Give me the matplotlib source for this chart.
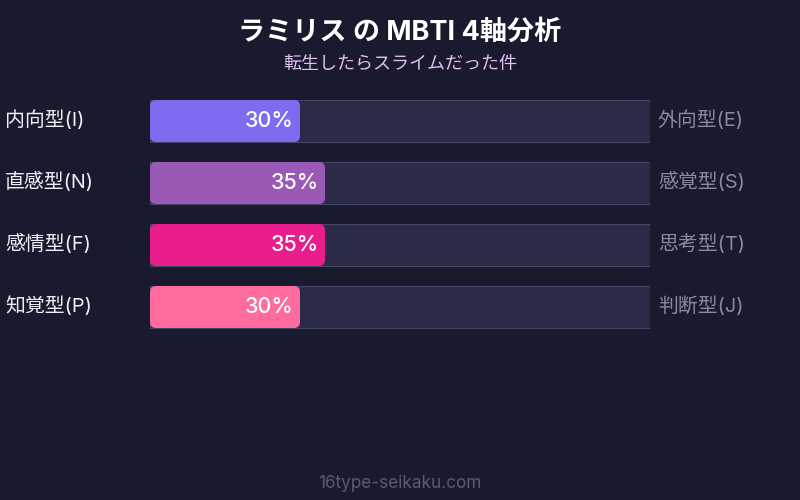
import matplotlib
matplotlib.use("Agg")
import matplotlib.pyplot as plt
from matplotlib.patches import FancyBboxPatch

plt.rcParams['font.family'] = ['Inter', 'Noto Sans CJK JP', 'DejaVu Sans']

# data
left_labels = ['内向型(I)', '直感型(N)', '感情型(F)', '知覚型(P)']
right_labels = ['外向型(E)', '感覚型(S)', '思考型(T)', '判断型(J)']
values = [30, 35, 35, 30]
colors = ['#7b6cf0', '#9b59b6', '#e91e8c', '#ff6b9d']

bg = '#1a1a2e'
fig = plt.figure(figsize=(8, 5), dpi=100, facecolor=bg)

# axes covers track area: x 150..650 px, y 90..338 px
ax = fig.add_axes([150 / 800, 1 - 338 / 500, 500 / 800, 248 / 500])
ax.set_facecolor('none')
ax.set_xlim(0, 100)
ax.set_ylim(len(values) - 0.5, -0.5)
ax.axis('off')

bar_h = 42 / 62
ypos = list(range(len(values)))

ax.barh(ypos, [100] * len(values), height=bar_h, color='#2b2b47',
        edgecolor='#45456a', linewidth=0.8)

bars = ax.barh(ypos, values, height=bar_h, color=colors)
for b, c in zip(bars, colors):
    b.set_visible(False)
    rp = FancyBboxPatch((b.get_x(), b.get_y()), b.get_width(), b.get_height(),
                        boxstyle='round,pad=0,rounding_size=1.2',
                        mutation_aspect=5 / 62, facecolor=c, edgecolor='none')
    ax.add_patch(rp)

for y, v in zip(ypos, values):
    ax.text(v - 1.2, y + 0.0, f'{v}%', ha='right', va='center', color='white',
            fontsize=15.5, fontweight='medium')

for y, lab in zip(ypos, left_labels):
    fig.text(5 / 800, 1 - (120 + 62 * y) / 500, lab, ha='left', va='center',
             color='#f0f0f8', fontsize=14.3)
for y, lab in zip(ypos, right_labels):
    fig.text(658 / 800, 1 - (120 + 62 * y) / 500, lab, ha='left', va='center',
             color='#8a8aa0', fontsize=14.3)

fig.text(0.5, 1 - 33 / 500, 'ラミリス の MBTI 4軸分析', ha='center', va='center',
         color='white', fontsize=19.5, fontweight='bold')
fig.text(0.5, 1 - 64 / 500, '転生したらスライムだった件', ha='center', va='center',
         color='#e0c0f0', fontsize=13)
fig.text(0.5, 1 - 484 / 500, '16type-seikaku.com', ha='center', va='center',
         color='#5a5a78', fontsize=12.3)

fig.savefig('out.png', dpi=100, facecolor=bg)
